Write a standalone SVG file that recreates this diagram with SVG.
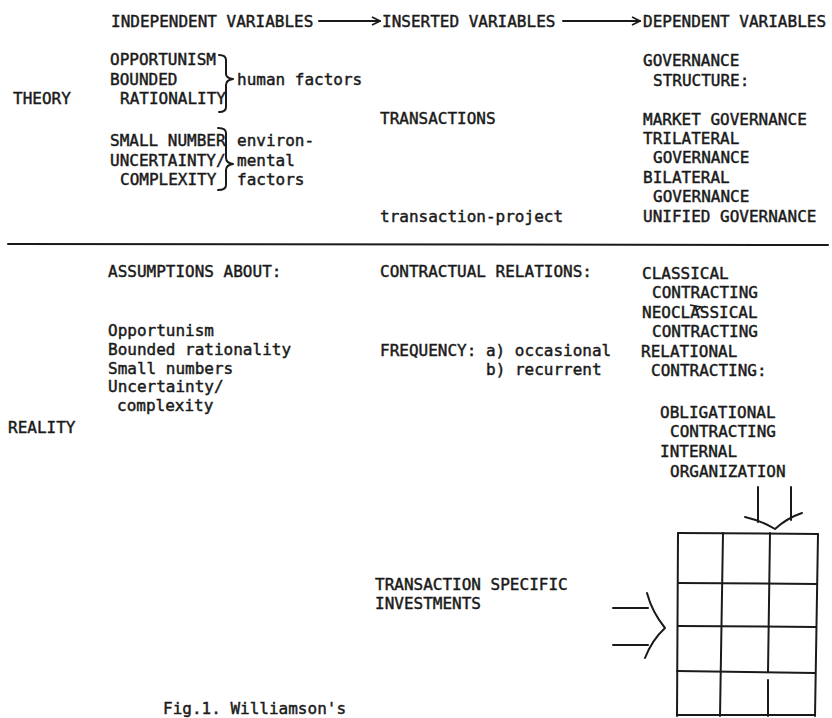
<svg xmlns="http://www.w3.org/2000/svg" width="832" height="718" viewBox="0 0 832 718">
<style>
text{font-family:"DejaVu Sans Mono","Liberation Mono",monospace;font-size:16px;fill:#1a1a1a;stroke:#1a1a1a;stroke-width:0.45}
.ln{fill:none;stroke:#1a1a1a;stroke-width:2;stroke-linecap:round;stroke-linejoin:round}
</style>
<defs>
<marker id="ah" viewBox="0 0 10 10" refX="9" refY="5" markerWidth="10" markerHeight="10" orient="auto" markerUnits="userSpaceOnUse">
<path d="M1,1 L9,5 L1,9" fill="none" stroke="#1a1a1a" stroke-width="1.6"/>
</marker>
</defs>
<rect width="832" height="718" fill="#ffffff"/>

<g id="header">
<text x="111" y="27">INDEPENDENT VARIABLES</text>
<text x="382" y="27">INSERTED VARIABLES</text>
<text x="643" y="27">DEPENDENT VARIABLES</text>
</g>

<g id="theory-label"><text x="13" y="104">THEORY</text></g>

<g id="human-factors">
<text x="110" y="65">OPPORTUNISM</text>
<text x="110" y="85">BOUNDED</text>
<text x="120" y="104">RATIONALITY</text>
<text x="237" y="85">human factors</text>
</g>

<g id="environmental-factors">
<text x="110" y="146">SMALL NUMBER</text>
<text x="110" y="166">UNCERTAINTY/</text>
<text x="120" y="185">COMPLEXITY</text>
<text x="237" y="146">environ-</text>
<text x="237" y="166">mental</text>
<text x="237" y="185">factors</text>
</g>

<g id="transactions">
<text x="380" y="124">TRANSACTIONS</text>
<text x="380" y="222">transaction-project</text>
</g>

<g id="governance">
<text x="643" y="66">GOVERNANCE</text>
<text x="653" y="86">STRUCTURE:</text>
<text x="643" y="125">MARKET GOVERNANCE</text>
<text x="643" y="144">TRILATERAL</text>
<text x="653" y="163">GOVERNANCE</text>
<text x="643" y="183">BILATERAL</text>
<text x="653" y="202">GOVERNANCE</text>
<text x="643" y="222">UNIFIED GOVERNANCE</text>
</g>

<g id="divider"><path class="ln" d="M8,244 L828,245"/></g>

<g id="reality-label"><text x="8" y="433">REALITY</text></g>

<g id="assumptions">
<text x="108" y="277">ASSUMPTIONS ABOUT:</text>
<text x="108" y="336">Opportunism</text>
<text x="108" y="355">Bounded rationality</text>
<text x="108" y="374">Small numbers</text>
<text x="108" y="392">Uncertainty/</text>
<text x="117" y="411">complexity</text>
</g>

<g id="contractual-relations">
<text x="380" y="277">CONTRACTUAL RELATIONS:</text>
<text x="380" y="356">FREQUENCY: a) occasional</text>
<text x="486" y="375">b) recurrent</text>
</g>

<g id="contracting">
<text x="642" y="279">CLASSICAL</text>
<text x="652" y="298">CONTRACTING</text>
<text x="642" y="318">NEOCLASSICAL</text>
<path d="M690,305 L701,307 L696,311" fill="none" stroke="#1a1a1a" stroke-width="1.5"/>
<text x="652" y="337">CONTRACTING</text>
<text x="641" y="357">RELATIONAL</text>
<text x="651" y="376">CONTRACTING:</text>
<text x="660" y="418">OBLIGATIONAL</text>
<text x="670" y="437">CONTRACTING</text>
<text x="660" y="457">INTERNAL</text>
<text x="670" y="477">ORGANIZATION</text>
</g>

<g id="investments">
<text x="375" y="590">TRANSACTION SPECIFIC</text>
<text x="375" y="609">INVESTMENTS</text>
</g>

<g id="grid">
<path class="ln" d="M678,533 L818,534"/>
<path class="ln" d="M678,583 L817,584"/>
<path class="ln" d="M678,626 L816,627"/>
<path class="ln" d="M677,671 L815,673"/>
<path class="ln" d="M677,715 L815,715"/>
<path class="ln" d="M678,533 L677,716"/>
<path class="ln" d="M723,533 L720,716"/>
<path class="ln" d="M770,533 L768,672"/>
<path class="ln" d="M768,680 L768,716"/>
<path class="ln" d="M818,534 L815,716"/>
</g>

<g id="caption"><text x="163" y="714" font-size="14" fill="#555" stroke="none">Fig.1. Williamson's</text></g>

<g id="connectors">
<path class="ln" d="M319,21 L380,21" marker-end="url(#ah)" stroke-width="1.6"/>
<path class="ln" d="M563,21 L640,21" marker-end="url(#ah)" stroke-width="1.6"/>
<path class="ln" d="M219,55 Q226,55 226,60 L226,74 Q226,78 233,79 Q226,80 226,85 L226,107 Q226,112 219,112" stroke-width="1.6"/>
<path class="ln" d="M218,128 Q226,128 226,133 L226,158 Q226,163 233,164 Q226,165 226,170 L226,185 Q226,190 218,190" stroke-width="1.6"/>
<path class="ln" d="M758,487 L758,522"/>
<path class="ln" d="M791,487 L791,520"/>
<path class="ln" d="M745,517 Q762,521 775,529 Q787,518 802,513"/>
<path class="ln" d="M613,608 L648,608"/>
<path class="ln" d="M613,645 L648,645"/>
<path class="ln" d="M647,593 Q652,612 665,628 Q652,640 645,658"/>
</g>
</svg>
